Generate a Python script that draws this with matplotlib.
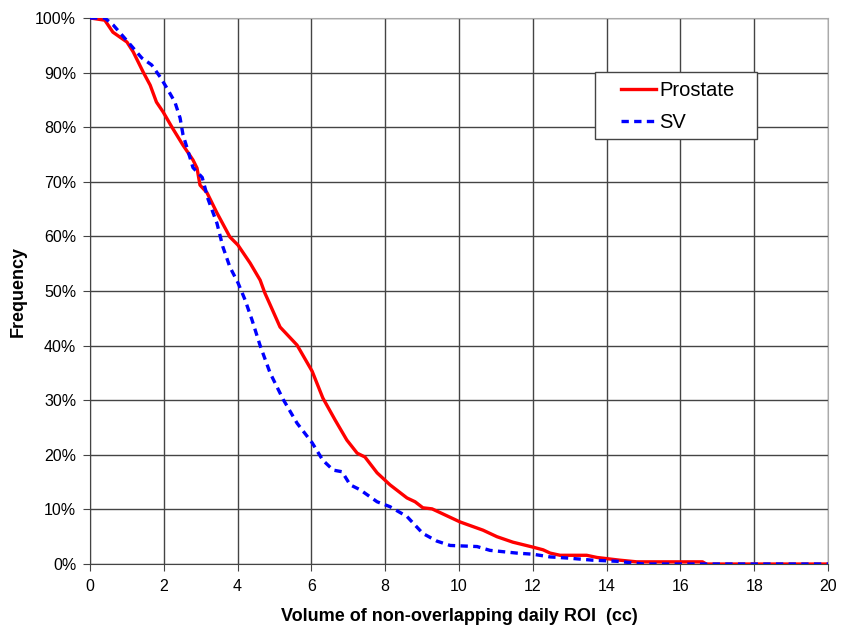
import matplotlib
matplotlib.use("Agg")
import matplotlib.pyplot as plt
from matplotlib.ticker import FuncFormatter
from matplotlib.patches import Rectangle

prostate_x = [0, 0.4, 0.62, 1.0, 1.17, 1.44, 1.63, 1.8, 1.98, 2.22, 2.52, 2.79, 2.9, 2.98, 3.17, 3.44,
              3.79, 4.01, 4.34, 4.61, 4.74, 4.88, 5.15, 5.61, 6.02, 6.31, 6.64, 6.96, 7.24, 7.45,
              7.78, 8.13, 8.59, 8.81, 9.02, 9.27, 10.03, 10.65, 11.03, 11.46, 12.0, 12.28, 12.47,
              12.74, 13.46, 13.74, 14.36, 14.82, 16.6, 16.7, 20]
prostate_y = [100, 99.6, 97.4, 95.6, 93.8, 90.1, 87.7, 84.6, 82.8, 80.0, 76.7, 74.0, 72.5, 69.4, 68.0, 64.3,
              59.9, 58.4, 55.1, 52.0, 49.6, 47.5, 43.4, 40.1, 35.3, 30.4, 26.4, 22.7, 20.3, 19.6,
              16.7, 14.5, 12.1, 11.4, 10.3, 10.1, 7.7, 6.2, 5.0, 4.0, 3.1, 2.6, 2.0,
              1.6, 1.6, 1.2, 0.7, 0.4, 0.4, 0.0, 0.0]

sv_x = [0, 0.4, 0.63, 1.03, 1.4, 1.67, 1.9, 2.08, 2.3, 2.44, 2.52, 2.63, 2.79, 3.04, 3.2, 3.44, 3.6,
        3.79, 4.01, 4.2, 4.39, 4.61, 4.88, 5.23, 5.61, 6.02, 6.31, 6.59, 6.83, 7.05, 7.32, 7.78,
        8.13, 8.59, 9.02, 9.4, 9.76, 10.49, 10.84, 11.57, 12.0, 12.47, 12.93, 13.63, 14.28, 14.72, 15.0, 20]
sv_y = [100, 100, 98.7, 95.6, 92.7, 91.4, 89.2, 87.2, 84.6, 81.7, 78.6, 76.2, 72.6, 70.8, 66.8, 62.4, 58.1,
        54.4, 51.5, 48.4, 44.7, 40.0, 35.0, 30.2, 25.8, 22.2, 19.0, 17.2, 16.9, 14.5, 13.6, 11.4,
        10.5, 8.7, 5.6, 4.2, 3.4, 3.2, 2.5, 2.0, 1.8, 1.3, 1.1, 0.7, 0.5, 0.2, 0.0, 0.0]

x_ticks = list(range(0, 21, 2))
y_ticks = list(range(0, 101, 10))

plt.rcParams['font.family'] = ['Liberation Sans', 'DejaVu Sans']

fig = plt.figure(figsize=(8.43, 6.29), dpi=100)
ax = fig.add_axes([0.1068, 0.1033, 0.8754, 0.8681])

ax.plot(prostate_x, prostate_y, color='#ff0000', lw=2.4, label='Prostate', zorder=3)
ax.plot(sv_x, sv_y, color='#0000ff', lw=2.4, ls=(0, (2.2, 1.6)), label='SV', zorder=4)

ax.set_xlim(0, 20)
ax.set_ylim(0, 100)
ax.set_xticks(x_ticks)
ax.set_yticks(y_ticks)
ax.yaxis.set_major_formatter(FuncFormatter(lambda v, p: f"{int(v)}%"))
ax.grid(True, color='#444444', lw=1.0)
ax.set_axisbelow(True)
ax.tick_params(axis='both', labelsize=11.5, direction='out', length=5, color='#444444', pad=6)
ax.tick_params(axis='y', pad=5)

for s in ['top', 'right']:
    ax.spines[s].set_color('#aaaaaa')
for s in ['left', 'bottom']:
    ax.spines[s].set_color('#444444')

ax.set_xlabel('Volume of non-overlapping daily ROI  (cc)', fontsize=13, fontweight='bold', labelpad=10)
ax.set_ylabel('Frequency', fontsize=13, fontweight='bold', labelpad=6)

# legend box
ax.add_patch(Rectangle((0.684, 0.778), 0.220, 0.123, transform=ax.transAxes,
                       facecolor='white', edgecolor='#444444', lw=1.0, zorder=5))
leg = ax.legend(loc='upper left', bbox_to_anchor=(0.719, 0.884), fontsize=14.5, frameon=False,
                handlelength=1.75, borderpad=0, labelspacing=0.62, handletextpad=0.15, borderaxespad=0)
leg.set_zorder(6)

fig.savefig('out.png', dpi=100)
